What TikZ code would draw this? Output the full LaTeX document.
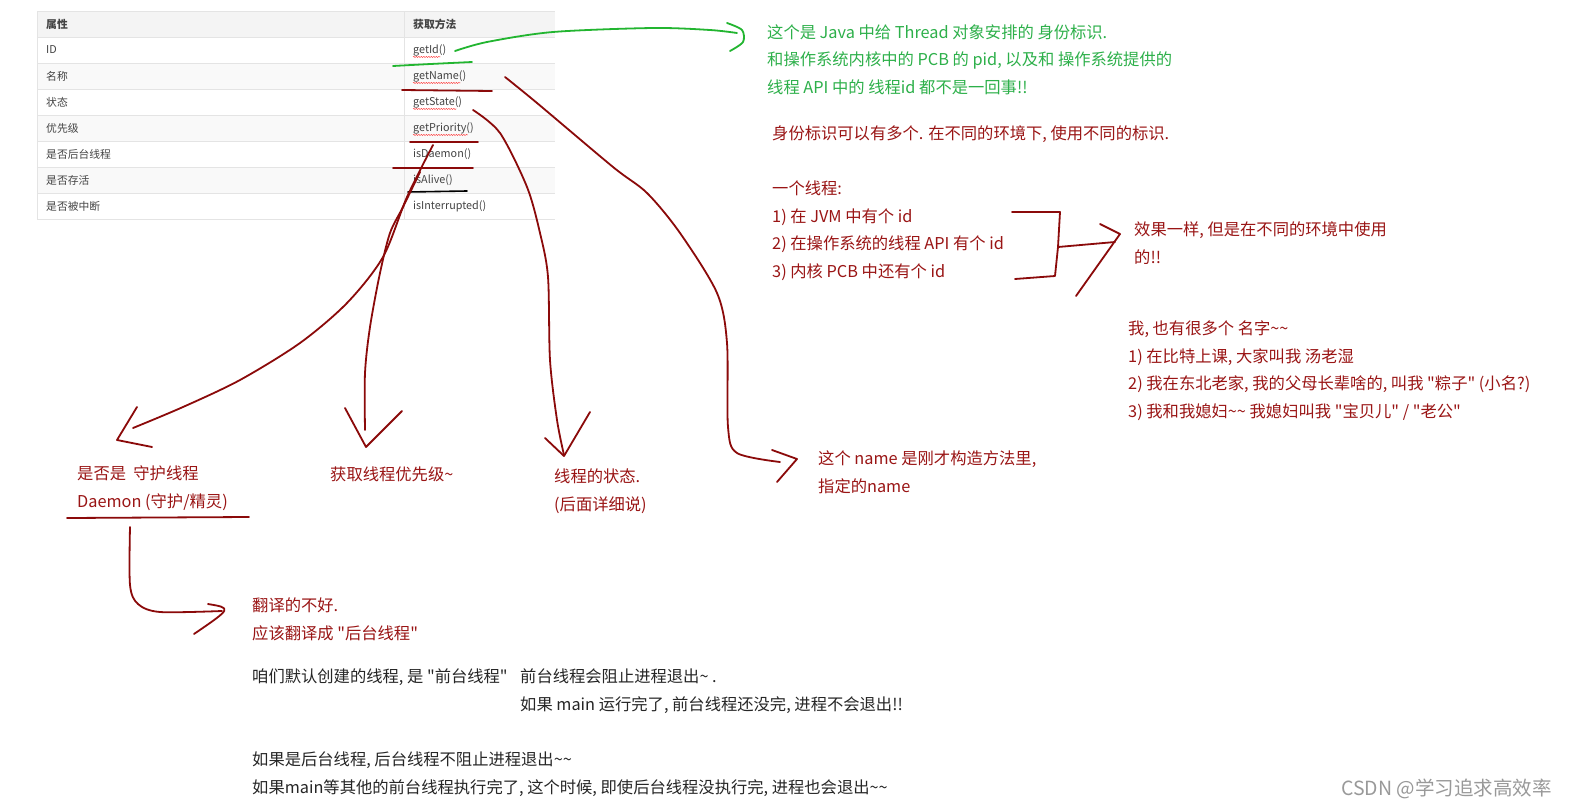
\documentclass[tikz,border=0pt]{standalone}
\usepackage{fontspec}
\setmainfont{Noto Sans CJK SC}[Ligatures=TeXOff]
\usetikzlibrary{decorations.pathmorphing}
\definecolor{penred}{HTML}{8B0A0A}
\definecolor{notered}{HTML}{9A1515}
\definecolor{pengreen}{HTML}{22B530}
\definecolor{notegreen}{HTML}{2DB04A}
\definecolor{headgray}{HTML}{F4F4F4}
\definecolor{rowgray}{HTML}{F9F9F9}
\definecolor{tblline}{HTML}{E4E4E4}
\definecolor{tbltext}{HTML}{444444}
\newcommand{\tld}{\textasciitilde}

\tikzset{
  note/.style={anchor=base west, inner sep=0pt, align=left, text=notered,
               font=\fontsize{16.3}{27.5}\selectfont},
  greennote/.style={note, text=notegreen},
  blacknote/.style={note, text=black!85},
  cell/.style={anchor=west, inner sep=0pt, text=tbltext, font=\fontsize{10.8}{12}\selectfont},
  pen/.style={penred, line width=1.8pt, line cap=round, line join=round},
  greenpen/.style={pen, pengreen},
  squiggle/.style={red!75, line width=0.5pt, decorate,
                   decoration={snake, amplitude=0.6pt, segment length=2.5pt}},
}

\begin{document}
\begin{tikzpicture}[x=1pt, y=-1pt]
\useasboundingbox (0,0) rectangle (1576,811);
\fill[white] (0,0) rectangle (1576,811);

% table
\fill[headgray] (37,11) rectangle (555,37);
\node[cell, font=\fontsize{10.8}{12}\selectfont\bfseries] (attr0) at (46,24) {属性};
\node[cell, font=\fontsize{10.8}{12}\selectfont\bfseries] (meth0) at (413,24) {获取方法};
\foreach \attr/\meth [count=\n] in {ID/getId(), 名称/getName(), 状态/getState(),
    优先级/getPriority(), 是否后台线程/isDaemon(), 是否存活/isAlive(), 是否被中断/isInterrupted()}{
  \ifodd\n\else\fill[rowgray] (37,11+26*\n) rectangle (555,37+26*\n);\fi
  \node[cell] (attr\n) at (46,24+26*\n) {\attr};
  \node[cell] (meth\n) at (413,24+26*\n) {\meth};
}
\foreach \n in {0,...,7}
  \draw[tblline] (37,37+26*\n) -- (555,37+26*\n);
\draw[tblline] (37,11) -- (555,11);
\draw[tblline] (37,11) -- (37,219);
\draw[tblline] (404,11) -- (404,219);
\foreach \n in {1,...,4}
  \draw[squiggle] ([yshift=-1pt]meth\n.south west) -- ([xshift=-6pt,yshift=-1pt]meth\n.south east);

% notes (multi-line ones sit on the baseline of their last line)
\node[greennote] (idnote) at (767,93) {这个是 Java 中给 Thread 对象安排的 身份标识.\\
  和操作系统内核中的 PCB 的 pid, 以及和 操作系统提供的\\线程 API 中的 线程id 都不是一回事!!};
\node[note] (manyid) at (772,139) {身份标识可以有多个. 在不同的环境下, 使用不同的标识.};
\node[note] (oneth) at (772,277) {一个线程:\\1) 在 JVM 中有个 id\\2) 在操作系统的线程 API 有个 id\\3) 内核 PCB 中还有个 id};
\node[note] (same) at (1134,263) {效果一样, 但是在不同的环境中使用\\的!!};
\node[note] (names) at (1128,417) {我, 也有很多个 名字\tld\tld\\1) 在比特上课, 大家叫我 汤老湿\\
  2) 我在东北老家, 我的父母长辈啥的, 叫我 "粽子" (小名?)\\3) 我和我媳妇\tld\tld{} 我媳妇叫我 "宝贝儿" / "老公"};
\node[note] (namenote) at (818,492) {这个 name 是刚才构造方法里,\\指定的name};
\node[note] (daemon) at (77,507) {是否是\ \ 守护线程\\Daemon (守护/精灵)};
\node[note] (prio) at (330,480) {获取线程优先级\tld};
\node[note] (state) at (554,510) {线程的状态.\\(后面详细说)};
\node[note] (transl) at (252,639) {翻译的不好.\\应该翻译成 "后台线程"};
\node[blacknote] (fore) at (252,682) {咱们默认创建的线程, 是 "前台线程"};
\node[blacknote] (block) at (520,710) {前台线程会阻止进程退出\tld\ .\\如果 main 运行完了, 前台线程还没完, 进程不会退出!!};
\node[blacknote] (back) at (252,793) {如果是后台线程, 后台线程不阻止进程退出\tld\tld\\
  如果main等其他的前台线程执行完了, 这个时候, 即使后台线程没执行完, 进程也会退出\tld\tld};
\node[anchor=base east, inner sep=0pt, text=black!40, font=\fontsize{19.5}{21}\selectfont] (mark) at (1552,795) {CSDN @学习追求高效率};

% green strokes
\draw[greenpen] (393,66) .. controls (430,64) .. (472,62);
\draw[greenpen] plot[smooth] coordinates {(455,51) (487,42) (553,32) (653,28) (710,30) (737,33)};
\draw[greenpen] plot[smooth] coordinates {(727,23) (742,30) (743,42) (730,51)};

% underlines
\draw[pen] (402,90) -- (492,91);
\draw[pen] (410,142) -- (478,142);
\draw[pen] (393,168) -- (473,168);
\draw[black, line width=1.6pt, line cap=round] (408,192) -- (467,191);
\draw[pen] (67,518) -- (249,517);

% arrows to the notes
\draw[pen] plot[smooth] coordinates {(433,145) (407,197) (383,257) (347,303) (300,343) (240,380) (183,407) (133,428)};
\draw[pen] (137,407) -- (117,440) -- (152,447);
\draw[pen] plot[smooth] coordinates {(420,172) (403,207) (390,233) (380,273) (370,327) (365,373) (365,430)};
\draw[pen] (345,408) -- (366,447) -- (402,411);
\draw[pen] plot[smooth] coordinates {(473,110) (500,133) (527,187) (540,233) (548,277) (550,360) (557,420) (564,455)};
\draw[pen] (545,438) -- (564,456) -- (590,412);
\draw[pen] plot[smooth] coordinates {(505,77) (537,103) (613,167) (647,193) (680,233) (717,293) (727,343) (728,427) (737,453) (780,462)};
\draw[pen] (772,450) -- (797,459) -- (777,482);

% bracket for the three ids
\draw[pen] (1012,212) -- (1060,212) -- (1058,247) -- (1055,276) -- (1015,279);
\draw[pen] (1058,247) -- (1115,242);
\draw[pen] (1100,224) -- (1120,234) -- (1076,296);

% daemon -> translation
\draw[pen] plot[smooth] coordinates {(130,527) (130,585) (138,604) (160,612) (222,611)};
\draw[pen] (208,604) .. controls (232,608) .. (194,634);
\end{tikzpicture}
\end{document}
